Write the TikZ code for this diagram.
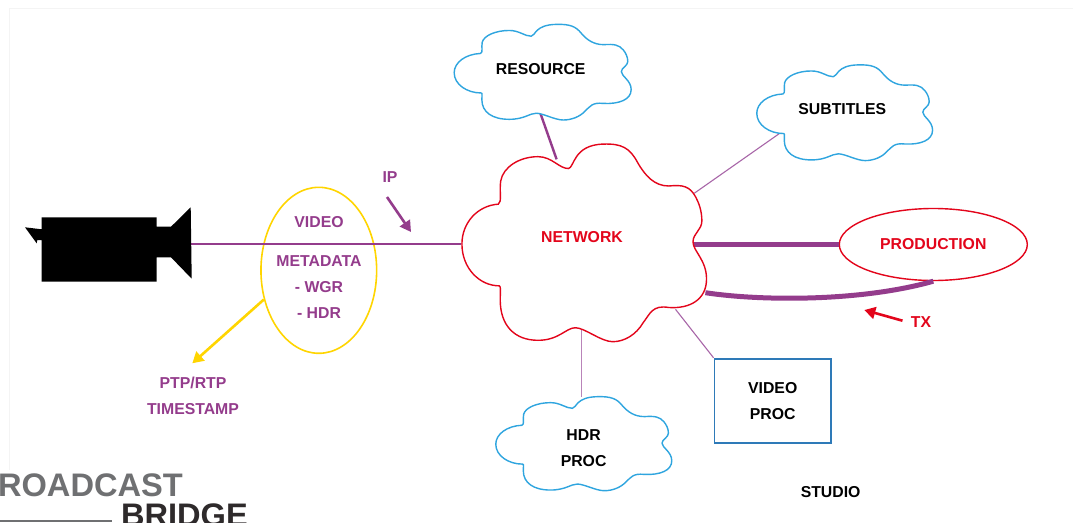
\documentclass[tikz,border=0pt]{standalone}
\usepackage{fontspec}
\setmainfont{Liberation Sans}
\usetikzlibrary{arrows.meta}
\usetikzlibrary{shapes.geometric}
\definecolor{netred}{HTML}{E3051B}
\definecolor{ipurple}{HTML}{943C8C}
\definecolor{thinpurple}{HTML}{A866A8}
\definecolor{cloudblue}{HTML}{2FA5DF}
\definecolor{boxblue}{HTML}{2E7AB8}
\definecolor{yellowline}{HTML}{FFD500}
\definecolor{logogray}{HTML}{6F7072}
\definecolor{logodark}{HTML}{2E2A2B}
\definecolor{edgegray}{HTML}{F4F4F4}
\tikzset{
 lbl/.style={font=\fontsize{15.8}{26}\selectfont\bfseries, align=center, inner sep=0},
 logotext/.style={font=\fontsize{32.6}{34}\selectfont\bfseries, inner sep=0, anchor=base east},
 thinlink/.style={thinpurple, line width=1.1},
 fatlink/.style={ipurple, line width=5.8},
 tiparrow/.style={line width=2.6, -{Triangle[length=11,width=12]}},
}
\newcommand{\cloudblob}[5]{
 \begin{scope}[shift={(#1,#2)}, xscale=#3/527, yscale=#4/285]
  \draw[fill=white, line width=1.4, draw=#5] (230,37) .. controls (243,36) and (240,3) .. (305,2)
   .. controls (345,1) and (362,8) .. (378,28) .. controls (395,48) and (415,62) .. (445,62)
   .. controls (475,60) and (490,62) .. (503,78) .. controls (510,87) and (516,98) .. (516,112)
   .. controls (516,125) and (497,130) .. (497,142) .. controls (497,155) and (526,168) .. (526,195)
   .. controls (526,225) and (490,238) .. (445,236) .. controls (410,232) and (405,245) .. (390,258)
   .. controls (375,275) and (350,285) .. (325,285) .. controls (300,285) and (265,265) .. (245,265)
   .. controls (225,265) and (210,283) .. (165,283) .. controls (115,283) and (84,262) .. (84,225)
   .. controls (84,215) and (86,205) .. (82,205) .. controls (40,205) and (2,180) .. (2,145)
   .. controls (2,115) and (35,90) .. (80,88) .. controls (88,85) and (82,70) .. (85,55)
   .. controls (90,35) and (125,20) .. (165,20) .. controls (195,20) and (210,37) .. (230,37) -- cycle;
 \end{scope}
}
\begin{document}
\begin{tikzpicture}[x=1pt, y=-1pt]
\clip (0,0) rectangle (1073,522);
\fill[white] (0,0) rectangle (1073,522);
\draw[edgegray, line width=1.5] (9.5,470) -- (9.5,8.5) -- (1073,8.5);

% connector ends
\coordinate (camera) at (191,244);
\coordinate (networkW) at (461,244);
\coordinate (networkN) at (556.6,159.3);
\coordinate (networkNE) at (694.2,193.3);
\coordinate (networkE) at (693.5,244.5);
\coordinate (networkSE) at (705.4,292.7);
\coordinate (networkS) at (581.4,329.3);
\coordinate (networkSS) at (675.5,309.3);
\coordinate (resourceS) at (540.4,113.3);
\coordinate (subtitlesS) at (782,131.7);
\coordinate (hdrN) at (581.4,397.3);
\coordinate (ipFrom) at (387,197);
\coordinate (ipTo) at (411,232);
\coordinate (txFrom) at (902.5,320.7);
\coordinate (txTo) at (864.3,310);
\coordinate (stampTo) at (192.3,363.3);

\node[draw=netred, line width=1.4, ellipse, minimum width=188, minimum height=72, inner sep=0] (production) at (933.3,244.5) {};
\node[draw=boxblue, line width=1.8, minimum width=116.5, minimum height=84, inner sep=0] (videoproc) at (772.7,400.7) {};
\node[draw=yellowline, line width=1.6, ellipse, minimum width=115.7, minimum height=166, inner sep=0] (stream) at (318.8,270.3) {};

\draw[ipurple, line width=2] (camera) -- (networkW);
\draw[ipurple, line width=2.4] (resourceS) -- (networkN);
\draw[thinlink] (subtitlesS) -- (networkNE);
\draw[thinlink, line width=1.8, opacity=.8] (networkS) -- (hdrN);
\draw[thinlink] (networkSS) -- (videoproc.north west);
\draw[fatlink] (networkE) -- (production.west);
\draw[ipurple, line width=5] (networkSE) .. controls (760,301) and (860,302) .. (production.south);
\draw[tiparrow, yellowline] (stream.208) -- (stampTo);
\draw[tiparrow, ipurple] (ipFrom) -- (ipTo);
\draw[tiparrow, netred] (txFrom) -- (txTo);

\cloudblob{453.5}{23.7}{178}{96.3}{cloudblue}
\cloudblob{756.1}{64.2}{176.8}{96.4}{cloudblue}
\cloudblob{495.1}{396}{177}{94.7}{cloudblue}
\cloudblob{461}{142.7}{246}{199}{netred}

% camera
\fill[black] (41.7,217.3) -- (156.7,217.3) -- (156.7,226.7) -- (171,226.7) -- (190.7,207.3) -- (191.7,278.7)
 -- (171,257.3) -- (156.7,257.3) -- (156.7,281.7) -- (41.7,281.7) -- (41.7,240) -- (37.3,240) -- (36.7,243.3)
 -- (25,227.3) -- (41.7,229.3) -- cycle;

\node[lbl] (resource) at (540.7,69) {RESOURCE};
\node[lbl] (subtitles) at (842.3,109) {SUBTITLES};
\node[lbl, text=netred] (network) at (582,236.7) {NETWORK};
\node[lbl, text=netred] (productionlbl) at (production) {PRODUCTION};
\node[lbl] (hdrproc) at (583.6,448) {HDR\\PROC};
\node[lbl] (videolbl) at (videoproc) {VIDEO\\PROC};
\node[lbl] (studio) at (830.6,491.7) {STUDIO};
\node[lbl, text=netred] (tx) at (921,321.7) {TX};
\node[lbl, text=ipurple] (ip) at (390,177) {IP};
\node[lbl, text=ipurple] (video) at (319,222) {VIDEO};
\node[lbl, text=ipurple] (metadata) at (319,287) {METADATA\\- WGR\\- HDR};
\node[lbl, text=ipurple] (stamp) at (193,396.3) {PTP/RTP\\TIMESTAMP};

% logo
\node[logotext, text=logogray] (logotop) at (183,496) {ROADCAST};
\node[logotext, text=logodark] (logobottom) at (248,526) {BRIDGE};
\draw[logogray, line width=1.5] (0,521) -- (112,521);
\end{tikzpicture}
\end{document}
